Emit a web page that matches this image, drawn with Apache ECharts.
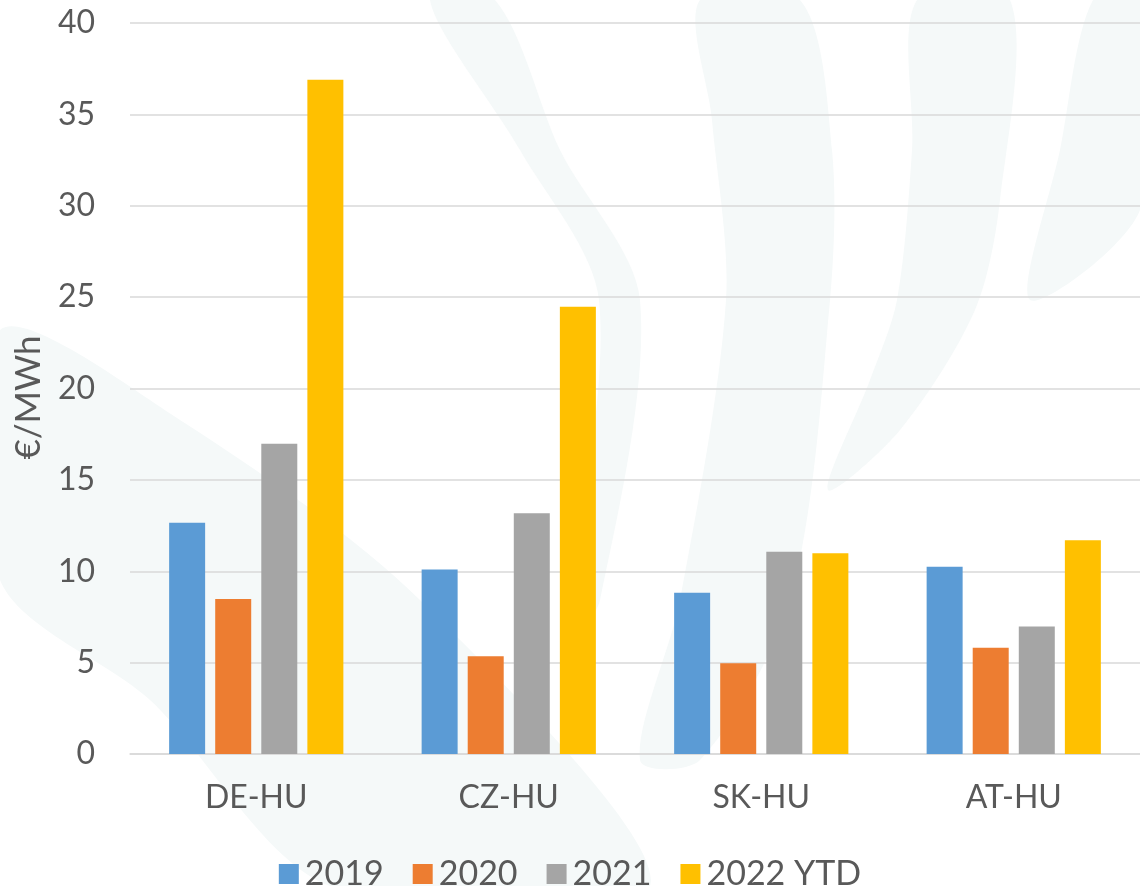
<!DOCTYPE html>
<html>
<head>
<meta charset="utf-8">
<script src="https://cdn.jsdelivr.net/npm/echarts@6/dist/echarts.min.js"></script>
<style>
	html, body { margin: 0; padding: 0; background: #fff; }
	#chart { width: 1140px; height: 886px; }
</style>
</head>
<body>
<div id="chart"></div>
<script>
// data
let borders = ['DE-HU', 'CZ-HU', 'SK-HU', 'AT-HU'];
let seriesNames = ['2019', '2020', '2021', '2022 YTD'];
let v2019 = [12.65, 10.1, 8.83, 10.25];
let v2020 = [8.48, 5.35, 4.97, 5.82];
let v2021 = [16.98, 13.18, 11.07, 6.97];
let v2022 = [36.9, 24.47, 10.98, 11.7];
let yTicks = [0, 5, 10, 15, 20, 25, 30, 35, 40];

let colors = ['#5B9BD5', '#ED7D31', '#A5A5A5', '#FFC000'];
let textColor = '#595959';
let font = 'Lato';

// faint watermark shapes in the background
let wm = '#f5f9f9';
let watermark = [
	[[0, 330], [180, 420], [420, 600], [650, 886], [330, 886], [150, 700], [0, 580]],
	[[700, 0], [800, 0], [832, 150], [830, 300], [790, 600], [700, 760], [640, 760], [680, 600], [726, 300], [712, 120]],
	[[917, 0], [1010, 0], [1000, 200], [975, 310], [900, 430], [828, 490], [870, 380], [897, 300], [912, 150]],
	[[1093, 0], [1140, 0], [1140, 210], [1030, 300], [1060, 150]],
	[[430, 0], [495, 0], [560, 150], [640, 300], [600, 600], [570, 640], [599, 300], [520, 150]]
].map(pts => ({
	type: 'polygon',
	z: -10,
	silent: true,
	shape: { points: pts, smooth: 0.3 },
	style: { fill: wm }
}));

let chart = echarts.init(document.getElementById('chart'));
let option = {
	backgroundColor: '#ffffff',
	color: colors,
	textStyle: { fontFamily: font },
	graphic: watermark,
	grid: { left: 130, right: 0, top: 23, bottom: 132 },
	legend: {
		data: seriesNames,
		top: 852,
		left: 'center',
		itemWidth: 20,
		itemHeight: 20,
		itemGap: 29,
		icon: 'rect',
		textStyle: { color: textColor, fontSize: 34, fontFamily: font, padding: [0, 0, 0, 1] }
	},
	xAxis: {
		type: 'category',
		data: borders,
		axisLine: { show: true, lineStyle: { color: '#d9d9d9', width: 1.5 } },
		axisTick: { show: false },
		axisLabel: { color: textColor, fontSize: 32, margin: 28 }
	},
	yAxis: {
		type: 'value',
		min: yTicks[0],
		max: yTicks[yTicks.length - 1],
		interval: 5,
		name: '€/MWh',
		nameLocation: 'middle',
		nameGap: 84,
		nameTextStyle: { color: textColor, fontSize: 35, padding: [0, 18, 0, 0] },
		axisLine: { show: false },
		axisTick: { show: false },
		axisLabel: { color: textColor, fontSize: 32, margin: 35 },
		splitLine: { lineStyle: { color: '#d9d9d9', width: 1.5 } }
	},
	series: [v2019, v2020, v2021, v2022].map((vals, i) => ({
		name: seriesNames[i],
		type: 'bar',
		data: vals,
		barWidth: 36,
		barGap: '28%'
	}))
};
chart.setOption(option);
</script>
</body>
</html>
